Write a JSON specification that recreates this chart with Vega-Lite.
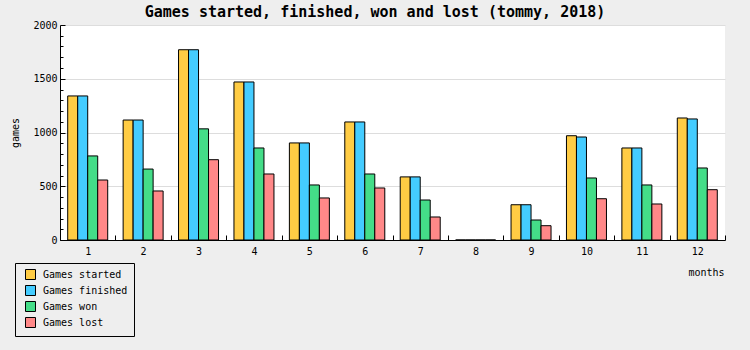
{
  "$schema": "https://vega.github.io/schema/vega-lite/v6.json",
  "autosize": "none",
  "width": 665,
  "height": 215,
  "padding": {"left": 60, "top": 25, "right": 25, "bottom": 110},
  "background": "#eeeeee",
  "title": {
    "text": "Games started, finished, won and lost (tommy, 2018)",
    "font": "DejaVu Sans Mono",
    "fontSize": 15,
    "fontWeight": "bold",
    "color": "#000000",
    "anchor": "middle",
    "baseline": "alphabetic",
    "offset": 2,
    "dx": -17.5,
    "dy": 14
  },
  "config": {
    "view": {"fill": "#ffffff", "stroke": null},
    "font": "DejaVu Sans Mono"
  },
  "data": {
    "values": [
      {"month": 1, "series": "Games started", "value": 1340},
      {"month": 1, "series": "Games finished", "value": 1340},
      {"month": 1, "series": "Games won", "value": 782},
      {"month": 1, "series": "Games lost", "value": 558},
      {"month": 2, "series": "Games started", "value": 1116},
      {"month": 2, "series": "Games finished", "value": 1116},
      {"month": 2, "series": "Games won", "value": 660},
      {"month": 2, "series": "Games lost", "value": 456},
      {"month": 3, "series": "Games started", "value": 1770},
      {"month": 3, "series": "Games finished", "value": 1770},
      {"month": 3, "series": "Games won", "value": 1034},
      {"month": 3, "series": "Games lost", "value": 747},
      {"month": 4, "series": "Games started", "value": 1470},
      {"month": 4, "series": "Games finished", "value": 1470},
      {"month": 4, "series": "Games won", "value": 856},
      {"month": 4, "series": "Games lost", "value": 614},
      {"month": 5, "series": "Games started", "value": 903},
      {"month": 5, "series": "Games finished", "value": 903},
      {"month": 5, "series": "Games won", "value": 512},
      {"month": 5, "series": "Games lost", "value": 391},
      {"month": 6, "series": "Games started", "value": 1098},
      {"month": 6, "series": "Games finished", "value": 1098},
      {"month": 6, "series": "Games won", "value": 614},
      {"month": 6, "series": "Games lost", "value": 484},
      {"month": 7, "series": "Games started", "value": 587},
      {"month": 7, "series": "Games finished", "value": 587},
      {"month": 7, "series": "Games won", "value": 372},
      {"month": 7, "series": "Games lost", "value": 214},
      {"month": 8, "series": "Games started", "value": 0},
      {"month": 8, "series": "Games finished", "value": 0},
      {"month": 8, "series": "Games won", "value": 0},
      {"month": 8, "series": "Games lost", "value": 0},
      {"month": 9, "series": "Games started", "value": 328},
      {"month": 9, "series": "Games finished", "value": 328},
      {"month": 9, "series": "Games won", "value": 186},
      {"month": 9, "series": "Games lost", "value": 133},
      {"month": 10, "series": "Games started", "value": 970},
      {"month": 10, "series": "Games finished", "value": 958},
      {"month": 10, "series": "Games won", "value": 577},
      {"month": 10, "series": "Games lost", "value": 384},
      {"month": 11, "series": "Games started", "value": 856},
      {"month": 11, "series": "Games finished", "value": 856},
      {"month": 11, "series": "Games won", "value": 512},
      {"month": 11, "series": "Games lost", "value": 335},
      {"month": 12, "series": "Games started", "value": 1135},
      {"month": 12, "series": "Games finished", "value": 1126},
      {"month": 12, "series": "Games won", "value": 670},
      {"month": 12, "series": "Games lost", "value": 468}
    ]
  },
  "resolve": {"axis": {"y": "independent"}},
  "layer": [
    {
      "mark": {"type": "bar", "stroke": "#000000", "strokeWidth": 1},
      "encoding": {
        "x": {
          "field": "month",
          "type": "ordinal",
          "scale": {"paddingInner": 0, "paddingOuter": 0},
          "axis": {
            "title": "months",
            "labelAngle": 0,
            "tickBand": "extent",
            "tickSize": -5,
            "tickColor": "#000000",
            "domainColor": "#000000",
            "labelColor": "#000000",
            "labelFont": "DejaVu Sans Mono",
            "labelFontSize": 10,
            "labelPadding": 11,
            "titleFont": "DejaVu Sans Mono",
            "titleFontSize": 10,
            "titleFontWeight": "normal",
            "titleColor": "#000000",
            "titleX": 664,
            "titleY": 32,
            "titleAlign": "right",
            "titleBaseline": "middle",
            "grid": false
          }
        },
        "xOffset": {
          "field": "series",
          "type": "nominal",
          "sort": ["Games started", "Games finished", "Games won", "Games lost"],
          "scale": {"paddingInner": 0, "paddingOuter": 0.771}
        },
        "y": {
          "field": "value",
          "type": "quantitative",
          "scale": {"domain": [0, 2000], "nice": false},
          "axis": {
            "title": "games",
            "values": [0, 500, 1000, 1500, 2000],
            "format": "d",
            "tickSize": -5,
            "tickColor": "#000000",
            "domainColor": "#000000",
            "labelColor": "#000000",
            "labelFont": "DejaVu Sans Mono",
            "labelFontSize": 10,
            "labelPadding": 8,
            "grid": true,
            "gridColor": "#dddddd",
            "gridOpacity": 1,
            "titleFont": "DejaVu Sans Mono",
            "titleFontSize": 10,
            "titleFontWeight": "normal",
            "titleColor": "#000000",
            "titleX": -44.5,
            "titleY": 107.5,
            "titleAngle": -90,
            "titleAlign": "center",
            "titleBaseline": "middle"
          }
        },
        "color": {
          "field": "series",
          "type": "nominal",
          "scale": {
            "domain": ["Games started", "Games finished", "Games won", "Games lost"],
            "range": ["#ffcc44", "#44ccff", "#44dd88", "#ff8888"]
          },
          "legend": {
            "title": null,
            "orient": "none",
            "legendX": -45,
            "legendY": 238,
            "direction": "vertical",
            "fillColor": "#eeeeee",
            "strokeColor": "#000000",
            "padding": 6,
            "symbolType": "square",
            "symbolSize": 100,
            "symbolStrokeColor": "#000000",
            "symbolStrokeWidth": 1,
            "symbolOpacity": 1,
            "symbolOffset": 4,
            "labelFont": "DejaVu Sans Mono",
            "labelFontSize": 10,
            "labelColor": "#000000",
            "labelOffset": 7,
            "rowPadding": 1
          }
        }
      }
    },
    {
      "mark": {"type": "point", "opacity": 0},
      "encoding": {
        "y": {
          "field": "value",
          "type": "quantitative",
          "axis": {
            "orient": "left",
            "title": null,
            "values": [100, 200, 300, 400, 600, 700, 800, 900, 1100, 1200, 1300, 1400, 1600, 1700, 1800, 1900],
            "labels": false,
            "domain": false,
            "grid": false,
            "tickSize": -3,
            "tickColor": "#000000"
          }
        }
      }
    }
  ]
}
